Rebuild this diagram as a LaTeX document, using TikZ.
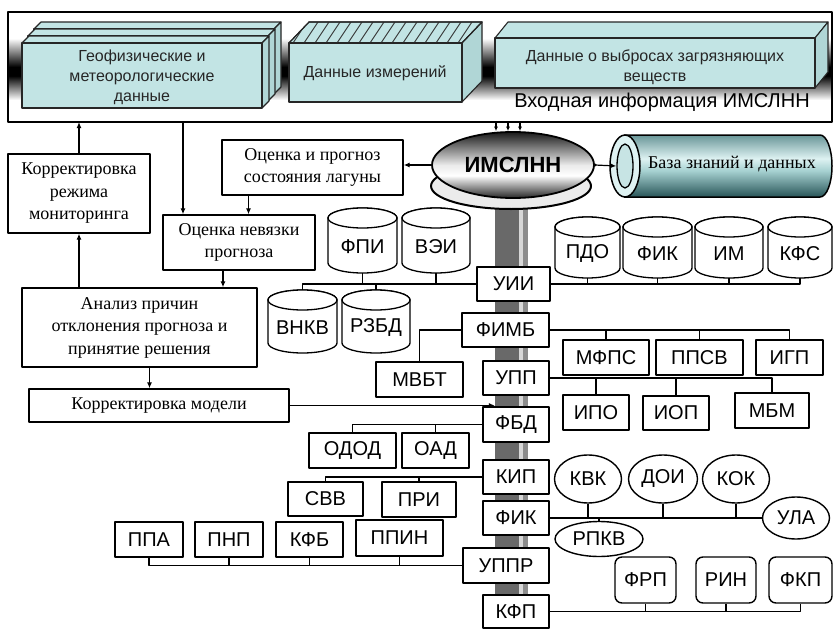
\documentclass[tikz,border=0pt]{standalone}
\usepackage{fontspec}
\setmainfont{Liberation Sans}
\newfontfamily\srf{Liberation Serif}
\usetikzlibrary{shapes.geometric,arrows.meta}
\definecolor{cyanbox}{RGB}{194,228,228}
\definecolor{cyanside}{RGB}{176,214,214}
\definecolor{bardark}{RGB}{105,105,105}
\definecolor{barlight}{RGB}{215,215,215}
\definecolor{barmid}{RGB}{140,140,140}
\definecolor{tealdark}{RGB}{40,85,88}
\definecolor{teallight}{RGB}{165,208,208}
\definecolor{tealpale}{RGB}{222,242,242}
\definecolor{tealtop}{RGB}{105,150,152}
\pgfdeclareverticalshading{bandsh}{100bp}{color(0bp)=(white); color(35bp)=(white); color(46bp)=(black); color(50bp)=(black); color(63bp)=(white); color(100bp)=(white)}
\pgfdeclareverticalshading{ellsh}{100bp}{color(0bp)=(black!85); color(25bp)=(black!85); color(42bp)=(white); color(50bp)=(white!92!black); color(75bp)=(black!90); color(100bp)=(black!90)}
\pgfdeclareverticalshading{cylsh}{100bp}{color(0bp)=(tealdark); color(25bp)=(tealdark); color(46bp)=(teallight); color(56bp)=(tealpale); color(75bp)=(tealtop); color(100bp)=(tealtop)}

\newcommand\mycuboid[6]{%
  \draw[cub] (#1,#2) -- ({#1+#5},{#2-#6}) -- ({#3+#5},{#2-#6}) -- (#3,#2) -- cycle;
  \draw[cub,fill=cyanside] (#3,#2) -- ({#3+#5},{#2-#6}) -- ({#3+#5},{#4-#6}) -- (#3,#4) -- cycle;
  \draw[cub] (#1,#2) rectangle (#3,#4);}
\newcommand\boxat[7]{\node[#1, minimum width={(#5-#3)*1pt}, minimum height={(#6-#4)*1pt}] (#2) at ({(#3+#5)/2},{(#4+#6)/2}) {#7};}
\newcommand\cylat[6]{%
  \pgfmathsetmacro\cylcx{(#2+#4)/2}%
  \pgfmathsetmacro\cylrx{(#4-#2)/2}%
  \draw[cylline] (#2,{#3+10}) -- (#2,{#5-10}) arc[start angle=180,end angle=360,x radius=\cylrx pt,y radius=10pt] -- (#4,{#3+10}) arc[start angle=0,end angle=180,x radius=\cylrx pt,y radius=10pt] -- cycle;
  \draw[cylline] (\cylcx,{#3+10}) ellipse[x radius=\cylrx pt,y radius=10pt];
  \node[inner sep=0pt, minimum width={(#4-#2)*1pt}, minimum height={(#5-#3)*1pt}] (#1) at (\cylcx,{(#3+#5)/2}) {};
  \node[lab] (#1t) at ([yshift=-6pt]#1.center) {#6};}

\begin{document}
\begin{tikzpicture}[x=1pt,y=-1pt,line join=round,
  cub/.style={draw=black!85,line width=1.1pt,fill=cyanbox},
  cylline/.style={draw=black,line width=1.3pt,fill=white},
  lab/.style={inner sep=0pt,font=\fontsize{20}{22}\selectfont},
  toptext/.style={inner sep=0pt,align=center,text=black!85,font=\fontsize{16}{20}\selectfont},
  abox/.style={draw,line width=1.4pt,fill=white,inner sep=0pt,font=\fontsize{20}{22}\selectfont},
  rbox/.style={abox,rounded corners=7pt},
  ebox/.style={ellipse,draw,line width=1.4pt,fill=white,inner sep=0pt,font=\fontsize{20}{22}\selectfont},
  sbox/.style={draw,line width=1.3pt,fill=white,inner sep=0pt,align=center,font=\srf\fontsize{18}{22.5}\selectfont},
  conn/.style={line width=1.1pt},
  arr/.style={line width=1.2pt,-{Latex[length=6pt,width=5pt]}},
  sarr/.style={line width=1.1pt,-{Latex[length=4.5pt,width=4pt]}}]
\fill[white] (0,0) rectangle (836,629);
\useasboundingbox (0,0) rectangle (836,629);

% input frame
\shade[shading=bandsh] (8,12) rectangle (832,122);
\mycuboid{34}{29}{274}{94}{7}{7}
\mycuboid{28}{36}{268}{101}{7}{7}
\mycuboid{22}{43}{262}{108}{7}{7}
\mycuboid{289}{43}{462}{102}{20}{21}
\begin{scope}
  \clip (289,43) -- (309,22) -- (482,22) -- (462,43) -- cycle;
  \foreach \h in {282,293,...,482} \draw[line width=0.9pt,black!80] (\h,43) -- ({\h+14},22);
\end{scope}
\draw[cub,fill=none] (289,43) -- (309,22) -- (482,22) -- (462,43) -- cycle;
\mycuboid{495}{38}{815}{88}{13}{16}
\draw[line width=2.5pt] (8,12) rectangle (832,122);
\coordinate (fb) at (0,122);
\node[toptext] (geo) at (142,77) {Геофизические и\\метеорологические\\данные};
\node[toptext] (izm) at (375,73) {Данные измерений};
\node[toptext] (vyb) at (655,67) {Данные о выбросах загрязняющих\\веществ};
\node[inner sep=0pt,font=\fontsize{20}{22}\selectfont] (vhod) at (662,102) {Входная информация ИМСЛНН};

% central bar and IMSLNN
\node[fill=bardark,inner sep=0pt,minimum width=33pt,minimum height=439pt] (bar) at (511.5,409.5) {};
\fill[barlight] (519,190) rectangle (523,629);
\fill[barmid] (523,190) rectangle (528,629);
\draw[line width=2pt,fill=black!8] (511,186) ellipse[x radius=80pt,y radius=23pt];
\node[ellipse,draw,line width=1.8pt,shade,shading=ellsh,minimum width=162pt,minimum height=66pt,inner sep=0pt,font=\bfseries\fontsize{22}{24}\selectfont] (ims) at (513,165) {ИМСЛНН};
\foreach \s/\n in {-17/a,-5/b,7/c}{
  \coordinate (t\n) at ([xshift=\s pt]ims.north);
  \draw[sarr] (t\n |- fb) -- (t\n);}

% knowledge base cylinder
\shade[shading=cylsh] (624,135) -- (820,135) arc[start angle=90,end angle=-90,x radius=12pt,y radius=31pt] -- (624,197) -- cycle;
\draw[line width=1.5pt] (624,135) -- (820,135) arc[start angle=90,end angle=-90,x radius=12pt,y radius=31pt] -- (624,197);
\draw[line width=1.5pt,fill=tealpale] (625,166) ellipse[x radius=15pt,y radius=31pt];
\node[ellipse,draw,line width=1.3pt,fill=teallight!40!tealpale,minimum width=16pt,minimum height=44pt,inner sep=0pt] (bzi) at (625,166) {};
\node[inner sep=0pt,font=\srf\fontsize{18}{20}\selectfont] (bz) at (732,164) {База знаний и данных};
\draw[arr] (ims.east) -- (bzi.west);
\fill (ims.east) circle[radius=1.8pt];

% left serif boxes
\boxat{sbox}{kr}{8}{154}{150}{233}{Корректировка\\режима\\мониторинга}
\boxat{sbox}{op}{222}{140}{403}{195}{Оценка и прогноз\\состояния лагуны}
\boxat{sbox}{on}{163}{215}{315}{270}{Оценка невязки\\прогноза}
\boxat{sbox}{an}{22}{288}{257}{367}{Анализ причин\\отклонения прогноза и\\принятие решения}
\boxat{sbox}{km}{29}{389}{289}{422}{Корректировка модели}

\draw[arr] (ims.west) -- (ims.west -| op.east);
\draw[arr] (kr.north) -- (kr.north |- fb);
\coordinate (f1) at (183,122);
\draw[arr] (f1) -- (f1 |- on.north);
\coordinate (op1) at ([xshift=-64pt]op.south);
\draw[arr] (op1) -- (op1 |- on.north);
\coordinate (on1) at ([xshift=-16pt]on.south);
\draw[arr] (on1) -- (on1 |- an.north);
\draw[arr] (kr.south |- an.north) -- (kr.south);
\coordinate (an1) at ([xshift=10pt]an.south);
\draw[arr] (an1) -- (an1 |- km.north);
\draw[arr] (km.east) -- (km.east -| bar.west);

% cylinders
\cylat{fpi}{328}{208}{397}{273}{ФПИ}
\cylat{vei}{402}{208}{470}{273}{ВЭИ}
\cylat{vnkv}{268}{290}{337}{353}{ВНКВ}
\cylat{rzbd}{342}{290}{410}{353}{РЗБД}
\cylat{pdo}{555}{217}{620}{278}{ПДО}
\cylat{fikc}{623}{217}{692}{278}{ФИК}
\cylat{im}{695}{217}{763}{278}{ИМ}
\cylat{kfs}{768}{217}{832}{278}{КФС}

% central boxes
\boxat{abox}{uii}{477}{267}{550}{301}{УИИ}
\boxat{abox}{fimb}{462}{313}{549}{347}{ФИМБ}
\boxat{abox}{upp}{483}{361}{549}{395}{УПП}
\boxat{abox}{fbd}{483}{407}{549}{442}{ФБД}
\boxat{abox}{kip}{483}{460}{549}{494}{КИП}
\boxat{abox}{fik}{483}{501}{549}{535}{ФИК}
\boxat{abox}{uppr}{463}{548}{549}{583}{УППР}
\boxat{abox}{kfp}{483}{595}{549}{628}{КФП}

% branch boxes
\boxat{abox}{mfps}{563}{340}{649}{375}{МФПС}
\boxat{abox}{ppsv}{656}{340}{743}{375}{ППСВ}
\boxat{abox}{igp}{756}{340}{823}{375}{ИГП}
\boxat{abox}{mvbt}{376}{362}{463}{397}{МВБТ}
\boxat{abox}{ipo}{563}{395}{629}{430}{ИПО}
\boxat{abox}{iop}{643}{396}{709}{430}{ИОП}
\boxat{abox}{mbm}{735}{393}{809}{428}{МБМ}
\boxat{abox}{odod}{309}{433}{396}{468}{ОДОД}
\boxat{abox}{oad}{402}{433}{469}{468}{ОАД}
\boxat{abox}{svv}{288}{482}{363}{516}{СВВ}
\boxat{abox}{pri}{382}{482}{456}{517}{ПРИ}
\boxat{abox}{ppa}{115}{522}{183}{557}{ППА}
\boxat{abox}{pnp}{195}{522}{263}{557}{ПНП}
\boxat{abox}{kfb}{276}{522}{343}{557}{КФБ}
\boxat{abox}{ppin}{356}{520}{443}{556}{ППИН}
\boxat{rbox}{frp}{615}{557}{676}{603}{ФРП}
\boxat{rbox}{rin}{696}{557}{756}{603}{РИН}
\boxat{rbox}{fkp}{769}{557}{832}{603}{ФКП}
\node[ebox,minimum width=67pt,minimum height=48pt] (kvk) at (588,479) {КВК};
\node[ebox,minimum width=69pt,minimum height=48pt] (doi) at (663,479) {ДОИ};
\node[ebox,minimum width=67pt,minimum height=48pt] (kok) at (736,479) {КОК};
\node[ebox,minimum width=67pt,minimum height=42pt] (ula) at (796,518) {УЛА};
\node[ebox,minimum width=88pt,minimum height=35pt] (rpkv) at (599,539) {РПКВ};

% connectors
\draw[conn] (uii.west) -| (vnkv.north);
\foreach \c in {fpi,vei} \draw[conn] (\c.south) -- (\c.south |- uii.west);
\draw[conn] (rzbd.north) -- (rzbd.north |- uii.west);
\draw[conn] (uii.east) -| (kfs.south);
\foreach \c in {pdo,fikc,im} \draw[conn] (\c.south) -- (\c.south |- uii.east);
\draw[conn] (fimb.east) -| (igp.north);
\foreach \c in {mfps,ppsv} \draw[conn] (\c.north) -- (\c.north |- fimb.east);
\draw[conn] (fimb.west) -| (mvbt.north);
\draw[conn] (upp.east) -| (mbm.north);
\foreach \c in {ipo,iop} \draw[conn] (\c.north) -- (\c.north |- upp.east);
\draw[conn] (fbd.west) -| (odod.north);
\draw[conn] (oad.north) -- (oad.north |- fbd.west);
\draw[conn] (kip.west) -| (svv.north);
\draw[conn] (pri.north) -- (pri.north |- kip.west);
\draw[conn] (fik.east) -- (ula.west);
\foreach \c in {kvk,doi,kok} \draw[conn] (\c.south) -- (\c.south |- fik.east);
\draw[conn] (rpkv.north) -- (rpkv.north |- fik.east);
\draw[conn] (uppr.west) -| (ppa.south);
\foreach \c in {pnp,kfb,ppin} \draw[conn] (\c.south) -- (\c.south |- uppr.west);
\draw[conn] (kfp.east) -| (fkp.south);
\foreach \c in {frp,rin} \draw[conn] (\c.south) -- (\c.south |- kfp.east);
\end{tikzpicture}
\end{document}
